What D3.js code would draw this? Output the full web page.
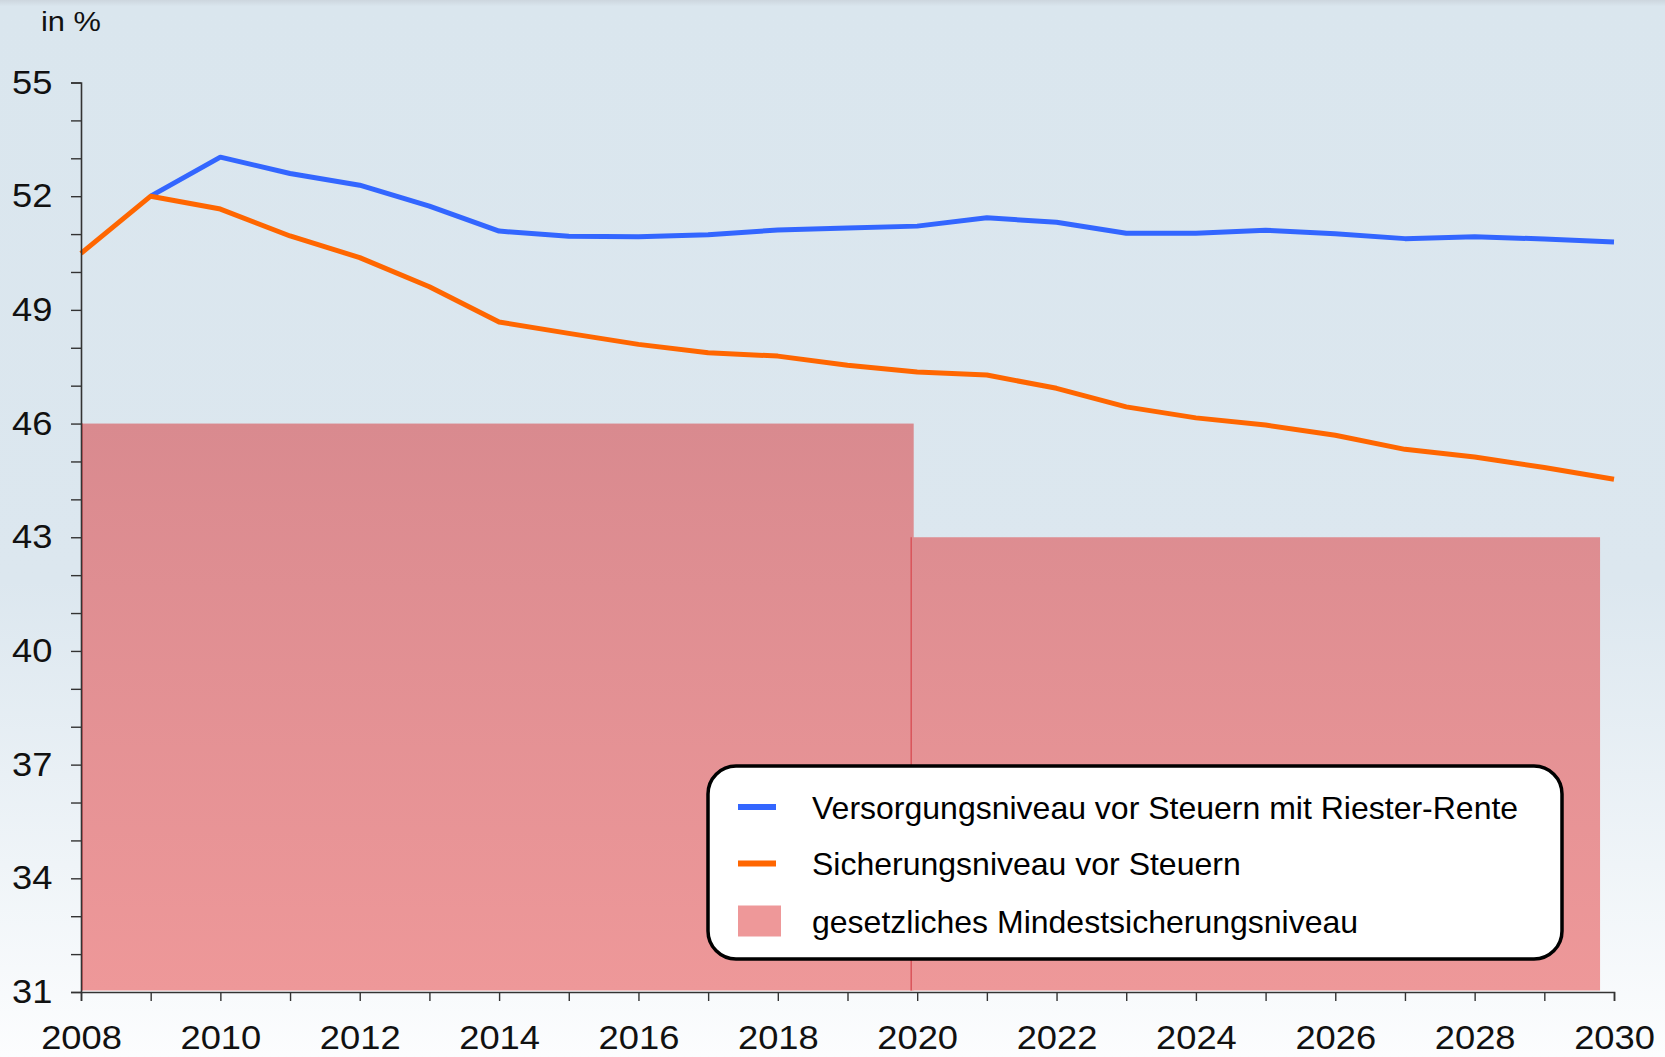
<!DOCTYPE html>
<html>
<head>
<meta charset="utf-8">
<script src="https://cdn.jsdelivr.net/npm/d3@7"></script>
<style>
  body { margin: 0; padding: 0; background: #fff; }
  svg { display: block; font-family: "Liberation Sans", Arial, sans-serif; }
</style>
</head>
<body>
<div id="chart"></div>
<script>
// data
var years = d3.range(2008, 2031);
var versorgung = [null, 52.0, 53.03, 52.6, 52.29, 51.74, 51.08, 50.94, 50.93, 50.98, 51.11, 51.16, 51.21, 51.43, 51.31, 51.02, 51.02, 51.1, 51.01, 50.88, 50.93, 50.87, 50.79];
var sicherung = [50.49, 52.0, 51.66, 50.95, 50.38, 49.61, 48.68, 48.38, 48.09, 47.87, 47.78, 47.54, 47.36, 47.28, 46.93, 46.44, 46.15, 45.96, 45.69, 45.32, 45.12, 44.84, 44.53];
var minStart = [2008, 2019.9];
var minEnd = [2019.95, 2029.8];
var minLevel = [46, 43];
var yLabels = [31, 34, 37, 40, 43, 46, 49, 52, 55];
var xLabels = d3.range(2008, 2031, 2);
var legendNames = ["Versorgungsniveau vor Steuern mit Riester-Rente", "Sicherungsniveau vor Steuern", "gesetzliches Mindestsicherungsniveau"];

var width = 1665, height = 1057;
var margin = {top: 82.5, right: 51, bottom: 65, left: 81};

var blue = "#3366ff", orange = "#ff6600";

var svg = d3.select("#chart").append("svg")
  .attr("width", width)
  .attr("height", height);

var defs = svg.append("defs");

var bg = defs.append("linearGradient")
  .attr("id", "bg")
  .attr("x1", "0%").attr("y1", "0%")
  .attr("x2", "0%").attr("y2", "100%");
bg.append("stop").attr("offset", "0%").attr("stop-color", "#cdd6de");
bg.append("stop").attr("offset", "0.6%").attr("stop-color", "#dae6ee");
bg.append("stop").attr("offset", "55%").attr("stop-color", "#dce7ef");
bg.append("stop").attr("offset", "100%").attr("stop-color", "#fcfdfe");

svg.append("rect")
  .attr("width", width)
  .attr("height", height)
  .style("fill", "url(#bg)");

var x = d3.scaleLinear()
  .domain([2008, 2030])
  .range([margin.left, width - margin.right]);

var y = d3.scaleLinear()
  .domain([31, 55])
  .range([height - margin.bottom, margin.top]);

var barGrad = defs.append("linearGradient")
  .attr("id", "barGrad")
  .attr("gradientUnits", "userSpaceOnUse")
  .attr("x1", 0).attr("x2", 0)
  .attr("y1", y(46)).attr("y2", y(31));
barGrad.append("stop").attr("offset", "0%").attr("stop-color", "#d98a8f");
barGrad.append("stop").attr("offset", "100%").attr("stop-color", "#ee9899");

// Mindestsicherungsniveau blocks
var bars = minLevel.map(function(v, i) {
  return {level: v, start: minStart[i], end: minEnd[i]};
});

svg.selectAll(".minbar")
  .data(bars)
  .enter().append("rect")
  .attr("class", "minbar")
  .attr("x", function(d) { return x(d.start); })
  .attr("y", function(d) { return y(d.level); })
  .attr("width", function(d) { return x(d.end) - x(d.start); })
  .attr("height", function(d) { return y(31) - y(d.level) - 1.5; })
  .style("fill", "url(#barGrad)");

svg.selectAll(".minedge")
  .data(bars)
  .enter().append("line")
  .attr("class", "minedge")
  .attr("x1", function(d) { return x(d.start) + 1; })
  .attr("x2", function(d) { return x(d.start) + 1; })
  .attr("y1", function(d) { return y(d.level); })
  .attr("y2", y(31) - 1.5)
  .style("stroke", "#d9545a")
  .style("stroke-width", 1.5);

// lines
var line = d3.line()
  .defined(function(d) { return d[1] != null; })
  .x(function(d) { return x(d[0]); })
  .y(function(d) { return y(d[1]); });

svg.append("path")
  .datum(years.map(function(yr, i) { return [yr, versorgung[i]]; }))
  .attr("d", line)
  .style("fill", "none")
  .style("stroke", blue)
  .style("stroke-width", 5)
  .style("stroke-linejoin", "round");

svg.append("path")
  .datum(years.map(function(yr, i) { return [yr, sicherung[i]]; }))
  .attr("d", line)
  .style("fill", "none")
  .style("stroke", orange)
  .style("stroke-width", 5)
  .style("stroke-linejoin", "round");

// axes
var yAxis = d3.axisLeft(y)
  .tickValues(d3.range(31, 56))
  .tickSize(10)
  .tickPadding(16)
  .tickFormat(function(d) { return yLabels.indexOf(d) >= 0 ? d : ""; });

var gy = svg.append("g")
  .attr("transform", "translate(" + margin.left + ",0)")
  .call(yAxis);

var xAxis = d3.axisBottom(x)
  .tickValues(years)
  .tickSize(9)
  .tickPadding(25)
  .tickFormat(function(d) { return xLabels.indexOf(d) >= 0 ? d : ""; });

var gx = svg.append("g")
  .attr("transform", "translate(0," + y(31) + ")")
  .call(xAxis);

// the original type is a bit wide, so stretch it sideways
[gx, gy].forEach(function(g) {
  g.select(".domain").style("stroke", "#333").style("stroke-width", 1.6);
  g.selectAll(".tick line").style("stroke", "#333").style("stroke-width", 1.4);
  g.selectAll(".tick text")
    .style("font-size", "33px")
    .style("fill", "#111")
    .style("font-family", "'Liberation Sans', Arial, sans-serif")
    .attr("transform", "scale(1.1,1)");
});

svg.append("text")
  .attr("transform", "translate(41,31) scale(1.1,1)")
  .style("font-size", "28px")
  .style("fill", "#111")
  .text("in %");

// legend
var legend = svg.append("g")
  .attr("transform", "translate(708,766)");

legend.append("rect")
  .attr("width", 854)
  .attr("height", 193)
  .attr("rx", 28)
  .attr("ry", 28)
  .style("fill", "#fff")
  .style("stroke", "#000")
  .style("stroke-width", 3.5);

var rowY = [41, 97.5, 155];
var swatchColors = [blue, orange, "#ee9899"];

legend.selectAll(".lgtext")
  .data(legendNames)
  .enter().append("text")
  .attr("class", "lgtext")
  .attr("x", 104)
  .attr("y", function(d, i) { return rowY[i]; })
  .attr("dy", "0.36em")
  .style("font-size", "32px")
  .style("fill", "#000")
  .text(function(d) { return d; });

legend.selectAll(".lgline")
  .data([0, 1])
  .enter().append("line")
  .attr("class", "lgline")
  .attr("x1", 30).attr("x2", 68)
  .attr("y1", function(d) { return rowY[d]; })
  .attr("y2", function(d) { return rowY[d]; })
  .style("stroke", function(d) { return swatchColors[d]; })
  .style("stroke-width", 6);

legend.append("rect")
  .attr("x", 30)
  .attr("y", rowY[2] - 15.5)
  .attr("width", 43)
  .attr("height", 31)
  .style("fill", swatchColors[2]);
</script>
</body>
</html>
